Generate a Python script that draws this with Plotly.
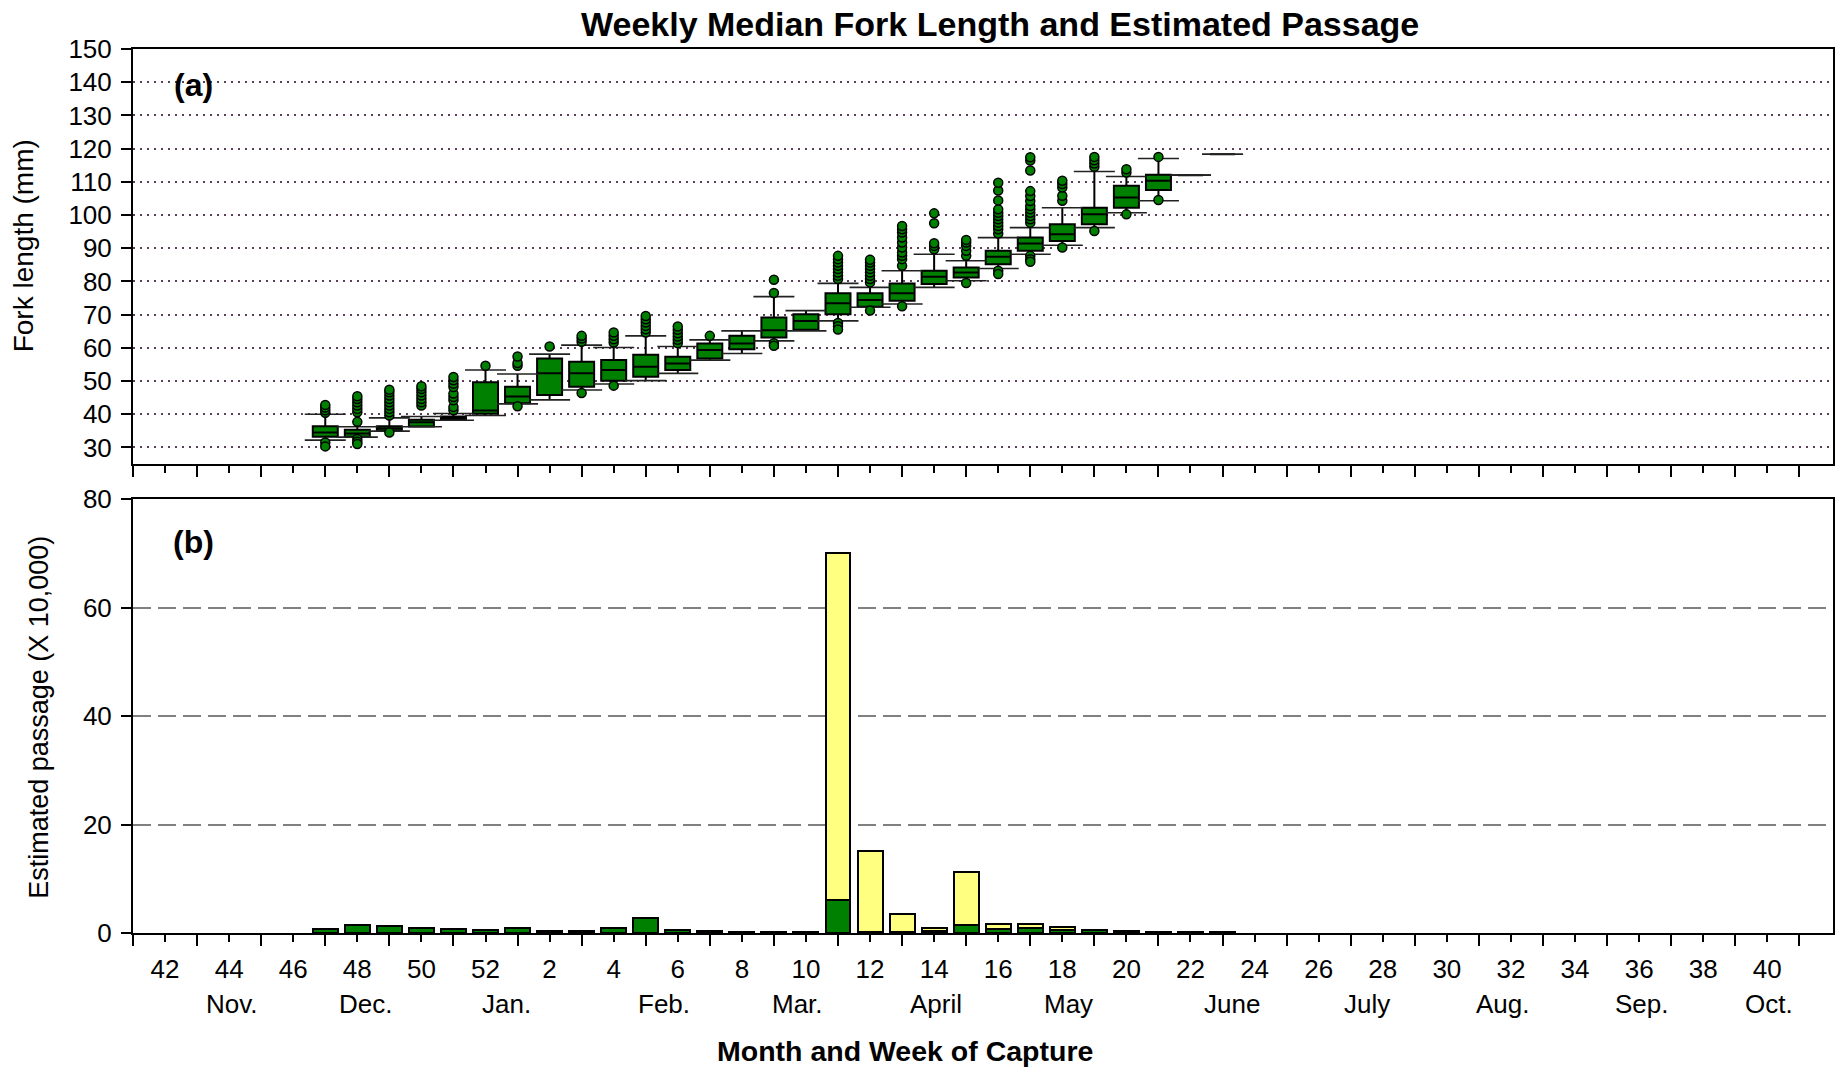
import plotly.graph_objects as go

# ---------------- data ----------------
week_order = list(range(41, 53)) + list(range(1, 41))   # water-year week sequence

# box plot statistics (fork length, mm)
box_weeks = [47, 48, 49, 50, 51, 52, 1, 2, 3, 4, 5, 6, 7, 8, 9, 10, 11, 12, 13, 14,
             15, 16, 17, 18, 19, 20, 21, 22, 23]
box_q1 = [33.2, 33.2, 35.0, 36.3, 38.3, 40.1, 43.3, 45.8, 48.3, 50.1, 51.3, 53.3, 56.8, 59.6,
          63.1, 65.4, 70.1, 72.4, 74.2, 79.2, 81.2, 85.2, 89.2, 92.2, 97.2, 102.2, 107.5, 112.0, 118.3]
box_median = [34.5, 34.2, 35.7, 37.6, 38.8, 41.1, 45.3, 52.3, 52.3, 53.3, 54.3, 55.3, 59.3, 61.3,
              65.3, 68.1, 73.4, 74.4, 76.4, 81.4, 82.7, 87.4, 91.4, 94.2, 100.2, 105.3, 110.3, 112.0, 118.3]
box_q3 = [36.4, 35.3, 36.4, 38.3, 39.3, 49.6, 48.3, 56.8, 55.8, 56.3, 57.9, 57.3, 61.3, 63.6,
          69.1, 70.1, 76.4, 76.4, 79.4, 83.2, 84.2, 89.2, 93.2, 97.2, 102.2, 108.8, 112.1, 112.0, 118.3]
box_low = [32.2, 33.1, 34.9, 36.2, 38.2, 39.6, 43.1, 44.3, 47.3, 49.1, 50.1, 52.3, 56.3, 58.3,
           62.1, 65.1, 68.1, 72.2, 73.2, 78.2, 80.2, 83.9, 88.2, 90.9, 96.2, 100.7, 104.3, 112.0, 118.3]
box_high = [40.0, 36.2, 38.9, 39.3, 40.2, 53.3, 52.1, 58.1, 60.8, 60.1, 63.6, 60.4, 62.4, 65.1,
            75.4, 71.2, 79.4, 78.2, 83.2, 88.2, 86.2, 93.2, 96.2, 102.2, 113.1, 111.6, 117.0, 112.0, 118.3]

# outliers (week, fork length)
outlier_weeks = (
    [47] * 6 + [48] * 10 + [49] * 10 + [50] * 7 + [51] * 9 + [52] * 1 + [1] * 4 + [2] * 1 +
    [3] * 4 + [4] * 5 + [5] * 6 + [6] * 6 + [7] * 1 + [9] * 4 + [11] * 11 + [12] * 9 +
    [13] * 11 + [14] * 5 + [15] * 6 + [16] * 13 + [17] * 15 + [18] * 6 + [19] * 5 +
    [20] * 3 + [21] * 2
)
outlier_values = (
    [40.4, 41.2, 42.0, 42.8, 31.5, 30.3] +
    [37.7, 40.6, 41.6, 42.6, 43.6, 44.6, 45.4, 32.5, 31.7, 31.0] +
    [39.6, 40.6, 41.6, 42.6, 43.6, 44.6, 45.6, 46.6, 47.4, 34.5] +
    [42.6, 43.6, 44.6, 45.6, 46.6, 47.6, 48.4] +
    [41.2, 42.2, 44.2, 45.2, 46.2, 48.2, 49.2, 50.2, 51.2] +
    [54.6] +
    [54.6, 55.4, 57.4, 42.4] +
    [60.4] +
    [61.8, 62.8, 63.6, 46.4] +
    [61.6, 62.6, 63.6, 64.6, 48.6] +
    [64.6, 65.6, 66.6, 67.6, 68.6, 69.6] +
    [61.4, 62.4, 63.4, 64.4, 65.4, 66.4] +
    [63.6] +
    [76.5, 80.5, 61.4, 60.6] +
    [80.7, 81.7, 82.7, 83.7, 84.7, 85.7, 86.7, 87.7, 67.5, 66.5, 65.5] +
    [79.7, 80.7, 81.7, 82.7, 83.7, 84.7, 85.7, 86.5, 71.2] +
    [84.7, 86.7, 87.7, 88.7, 90.2, 91.7, 93.2, 94.7, 95.7, 96.7, 72.5] +
    [89.7, 90.7, 91.5, 97.5, 100.5] +
    [87.7, 89.2, 90.7, 91.7, 92.5, 79.5] +
    [94.4, 95.7, 96.7, 97.7, 98.7, 99.7, 100.7, 101.7, 104.4, 107.4, 109.7, 83.2, 82.2] +
    [97.7, 98.7, 99.7, 100.7, 101.7, 102.7, 104.2, 105.7, 107.2, 113.4, 116.4, 117.4, 87.7, 86.7, 85.9] +
    [104.3, 105.8, 108.3, 109.3, 110.3, 90.2] +
    [114.5, 115.5, 116.5, 117.5, 95.2] +
    [112.8, 113.8, 100.2] +
    [117.5, 104.5]
)

# estimated passage (x 10,000)
bar_weeks = [47, 48, 49, 50, 51, 52, 1, 2, 3, 4, 5, 6, 7, 8, 9, 10, 11, 12, 13, 14,
             15, 16, 17, 18, 19, 20, 21, 22, 23]
passage_green = [0.75, 1.5, 1.3, 0.9, 0.75, 0.5, 0.85, 0.4, 0.45, 0.9, 2.7, 0.55, 0.4, 0.25,
                 0.25, 0.2, 6.1, 0.2, 0.1, 0.4, 1.4, 0.8, 0.9, 0.6, 0.6, 0.35, 0.15, 0.15, 0.1]
passage_yellow = [0, 0, 0, 0, 0, 0, 0, 0, 0, 0, 0, 0, 0, 0,
                  0, 0, 64.0, 15.0, 3.4, 0.5, 9.9, 0.8, 0.85, 0.5, 0, 0, 0, 0, 0]

tick_weeks = list(range(42, 53, 2)) + list(range(2, 41, 2))
month_names = ["Nov.", "Dec.", "Jan.", "Feb.", "Mar.", "April", "May", "June",
               "July", "Aug.", "Sep.", "Oct."]
month_pos = [3.1, 7.26, 11.64, 16.57, 20.73, 25.05, 29.2, 34.3, 38.5, 42.76, 47.1, 51.05]

# ---------------- helpers ----------------
pos = {w: i for i, w in enumerate(week_order)}
bx = [pos[w] for w in box_weeks]
ox = [pos[w] for w in outlier_weeks]
barx = [pos[w] for w in bar_weeks]

GREEN = "#008000"
YELLOW = "#FFFF80"
FONT = "Liberation Sans, Arial, sans-serif"
BOXW = 0.78
CAPHALF = 0.64

fig = go.Figure()

fig.add_trace(go.Box(
    x=bx, q1=box_q1, median=box_median, q3=box_q3,
    lowerfence=box_low, upperfence=box_high,
    boxpoints=False, width=BOXW, whiskerwidth=0,
    fillcolor=GREEN, line=dict(color="black", width=2),
    xaxis="x", yaxis="y", showlegend=False, hoverinfo="skip"))

cx, cy = [], []
for x, lo, hi in zip(bx, box_low, box_high):
    cx += [x - CAPHALF, x + CAPHALF, None, x - CAPHALF, x + CAPHALF, None]
    cy += [hi, hi, None, lo, lo, None]
fig.add_trace(go.Scatter(x=cx, y=cy, mode="lines", line=dict(color="#222222", width=1.6),
                         xaxis="x", yaxis="y", showlegend=False, hoverinfo="skip"))

fig.add_trace(go.Scatter(x=ox, y=outlier_values, mode="markers",
                         marker=dict(symbol="circle", size=9, color=GREEN,
                                     line=dict(color="black", width=1.5)),
                         xaxis="x", yaxis="y", showlegend=False, hoverinfo="skip"))

fig.add_trace(go.Bar(x=barx, y=passage_green, width=BOXW, marker=dict(color=GREEN, line=dict(color="black", width=2)),
                     xaxis="x2", yaxis="y2", showlegend=False, hoverinfo="skip"))
fig.add_trace(go.Bar(x=barx, y=passage_yellow, width=BOXW, marker=dict(color=YELLOW, line=dict(color="black", width=2)),
                     xaxis="x2", yaxis="y2", showlegend=False, hoverinfo="skip"))

XR = [0, 53.05]
odd_pos = [pos[w] for w in tick_weeks]
even_pos = list(range(0, 53, 2))

def xaxis_cfg(anchor, labels):
    return dict(
        anchor=anchor, range=XR, showgrid=False, zeroline=False,
        showline=True, linecolor="black", linewidth=2, mirror=True,
        tickmode="array", tickvals=odd_pos, ticktext=[str(w) for w in tick_weeks],
        showticklabels=labels, ticks="outside", ticklen=7, tickwidth=2, tickcolor="black",
        ticklabelstandoff=5,
        tickfont=dict(family=FONT, size=26, color="black"),
        minor=dict(tickmode="array", tickvals=even_pos, ticks="outside", ticklen=11,
                   tickwidth=2, tickcolor="black", showgrid=False),
    )

top_dom = [(933 - 464) / 884, 1.0]
bot_dom = [0.0, (933 - 499) / 884]

fig.update_layout(
    width=1837, height=1067,
    margin=dict(l=133, r=2, t=49, b=134),
    paper_bgcolor="white", plot_bgcolor="white",
    barmode="stack", bargap=0,
    font=dict(family=FONT, color="black"),
    xaxis=xaxis_cfg("y", False),
    xaxis2=xaxis_cfg("y2", True),
    yaxis=dict(domain=top_dom, range=[25, 150], tickmode="array", tickvals=list(range(30, 151, 10)),
               showline=True, linecolor="black", linewidth=2, mirror=True, zeroline=False,
               ticks="outside", ticklen=10, tickwidth=2, tickcolor="black", ticklabelstandoff=4,
               tickfont=dict(family=FONT, size=26, color="black"),
               showgrid=True, gridcolor="#5b3f5b", griddash="2px,5px", gridwidth=1.5),
    yaxis2=dict(domain=bot_dom, range=[0, 80], tickmode="array", tickvals=[0, 20, 40, 60, 80],
                showline=True, linecolor="black", linewidth=2, mirror=True, zeroline=False,
                ticks="outside", ticklen=10, tickwidth=2, tickcolor="black", ticklabelstandoff=4,
                tickfont=dict(family=FONT, size=26, color="black"),
                showgrid=True, gridcolor="#808080", griddash="18px,7px", gridwidth=1.5),
)

ann = [
    dict(text="<b>Weekly Median Fork Length and Estimated Passage</b>", xref="paper", yref="paper",
         x=0.51, y=1.0283, font=dict(size=34)),
    dict(text="<b>(a)</b>", xref="paper", yref="paper", x=0.0353, y=0.9593, font=dict(size=32)),
    dict(text="<b>(b)</b>", xref="paper", yref="paper", x=0.0358, y=0.4423, font=dict(size=32)),
    dict(text="Fork length (mm)", xref="paper", yref="paper", x=-0.0646, y=0.777,
         textangle=-90, font=dict(size=28)),
    dict(text="Estimated passage (X 10,000)", xref="paper", yref="paper", x=-0.0554, y=0.2443,
         textangle=-90, font=dict(size=27)),
    dict(text="<b>Month and Week of Capture</b>", xref="paper", yref="paper", x=0.4542, y=-0.1335,
         font=dict(size=28.5)),
]
for name, p in zip(month_names, month_pos):
    ann.append(dict(text=name, xref="x2", yref="paper", x=p, y=-0.0800, font=dict(size=26)))
for a in ann:
    a.update(showarrow=False, xanchor="center", yanchor="middle")
    a["font"].update(family=FONT, color="black")
fig.update_layout(annotations=ann)

fig.write_html("out.html")
